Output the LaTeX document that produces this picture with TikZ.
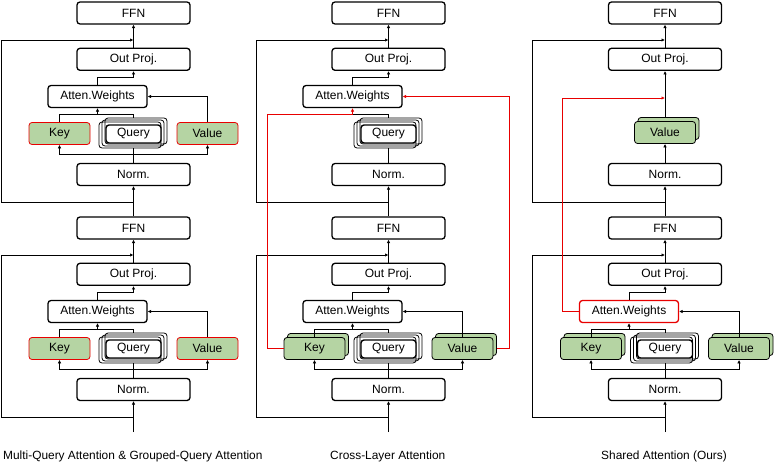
\documentclass[tikz,border=0pt]{standalone}
\usepackage{fontspec}
\setmainfont{Liberation Sans}
\usetikzlibrary{positioning, arrows.meta}

\definecolor{kvgreen}{RGB}{181,212,163}
\definecolor{linkred}{RGB}{232,0,0}

\tikzset{
  box/.style={draw, rounded corners=3pt, line width=1.3pt, fill=white,
    minimum height=22pt, inner sep=0pt, font=\fontsize{12}{13}\selectfont},
  wide/.style={box, minimum width=113pt},
  attn/.style={box, minimum width=99pt},
  kv/.style={box, fill=kvgreen, minimum width=61pt, line width=0.8pt},
  card/.style={draw, rounded corners=3pt, line width=0.8pt, minimum width=62pt, minimum height=26pt},
  qbox/.style={box, minimum width=55pt, minimum height=18pt, line width=1.4pt},
  wire/.style={line width=1pt},
  flow/.style={wire, -{Latex[length=3.5pt,width=3.5pt]}},
  redlink/.style={flow, draw=linkred},
}

\begin{document}
\begin{tikzpicture}[x=1pt, y=-1pt]
\useasboundingbox (0,0) rectangle (775,463);

% layers: FFN, Out Proj., Norm. and the residual path
\foreach \n/\cx in {L/133.5, M/388.5, R/665} {
  \foreach \blk/\dy in {1/0, 2/215} {
    \node[wide] (ffn\n\blk) at (\cx,{13+\dy}) {FFN};
    \node[wide, below=23pt of ffn\n\blk] (proj\n\blk) {Out Proj.};
    \node[wide] (nrm\n\blk) at (\cx,{174.5+\dy}) {Norm.};
    \coordinate (rsa\n\blk) at (\cx,{202+\dy});
    \coordinate (rsb\n\blk) at ({\cx-132.5},{202+\dy});
    \coordinate (rsc\n\blk) at ({\cx-132.5},{40+\dy});
    \coordinate (rsd\n\blk) at (\cx,{40+\dy});
    \draw[flow] (proj\n\blk) -- (ffn\n\blk);
    \draw[wire] (rsa\n\blk) -- (rsb\n\blk) -- (rsc\n\blk);
    \draw[flow] (rsc\n\blk) -- (rsd\n\blk);
  }
  \coordinate (in\n) at (\cx,432);
  \draw[flow] (in\n) -- (nrm\n2);
  \draw[flow] (ffn\n2) -- (nrm\n1);
}

% attention weights
\node[attn] (attnL1) at (97.5,96.5) {Atten.Weights};
\node[attn] (attnL2) at (97.5,311.5) {Atten.Weights};
\node[attn] (attnM1) at (352.5,96.5) {Atten.Weights};
\node[attn] (attnM2) at (352.5,311.5) {Atten.Weights};
\node[attn, draw=linkred] (attnR2) at (629,311.5) {Atten.Weights};

% query stacks
\foreach \pn/\cx/\dy in {L1/133.5/0, L2/133.5/215, M1/388.5/0, M2/388.5/215, R2/665/215} {
  \node[card] (qa\pn) at ({\cx-3.5},{135+\dy}) {};
  \node[card] (qb\pn) at ({\cx-0.5},{133+\dy}) {};
  \node[card] (qc\pn) at ({\cx+2.5},{131+\dy}) {};
  \node[qbox] (qry\pn) at (\cx,{134+\dy}) {Query};
  \coordinate (mrg\pn) at (\cx,{114+\dy});
  \draw[wire] (nrm\pn.north) -- (nrm\pn.north |- qa\pn.south);
  \draw[wire] (mrg\pn |- qc\pn.north) -- (mrg\pn);
}

% keys and values
\node[kv, draw=linkred] (keyL1) at (59.5,133.5) {Key};
\node[kv, draw=linkred] (valL1) at (207.5,133.5) {Value};
\node[kv, draw=linkred] (keyL2) at (59.5,348.5) {Key};
\node[kv, draw=linkred] (valL2) at (207.5,348.5) {Value};
\node[kv] (kbM2) at (318,344.5) {};
\node[kv] (keyM2) at (314.5,348.5) {Key};
\node[kv] (vbM2) at (466,344.5) {};
\node[kv] (valM2) at (462.5,348.5) {Value};
\node[kv] (vbR1) at (668.5,128.5) {};
\node[kv] (valR1) at (665,132.5) {Value};
\node[kv] (kbR2) at (594.5,344.5) {};
\node[kv] (keyR2) at (591,348.5) {Key};
\node[kv] (vbR2) at (742.5,344.5) {};
\node[kv] (valR2) at (739,348.5) {Value};

% wiring inside the attention blocks
\foreach \pn in {L1, L2, M2, R2} {
  \path (nrm\pn.north) ++(0,-8.5) coordinate (low\pn);
  \draw[flow] (attn\pn.north) -- ++(0,-7.5) -| (proj\pn.south);
  \draw[wire] (key\pn.north) |- (mrg\pn);
  \draw[flow] (attn\pn.south |- mrg\pn) -- (attn\pn.south);
  \draw[flow] (val\pn.north) |- (attn\pn.east);
  \draw[flow] (low\pn) -| (key\pn.south);
  \draw[flow] (low\pn) -| (val\pn.south);
}

% middle column: keys and values come from the layer below
\draw[flow] (attnM1.north) -- ++(0,-7.5) -| (projM1.south);
\draw[wire] (mrgM1) -- (attnM1.south |- mrgM1);
\draw[redlink] (keyM2.west) -- ++(-16.5,0) |- (attnM1.south |- mrgM1) -- (attnM1.south);
\draw[redlink] (vbM2.east |- valM2.east) -- ++(12.5,0) |- (attnM1.east);

% right column: weights reused by the layer above
\coordinate (tapR1) at (665,98);
\draw[flow] (nrmR1.north) -- (valR1.south);
\draw[flow] (valR1 |- vbR1.north) -- (projR1.south);
\draw[redlink] (attnR2.west) -- ++(-16,0) |- (tapR1);

% captions
\node[anchor=base west, inner sep=0pt, font=\fontsize{11.9}{13}\selectfont] (capL) at (3,459) {Multi-Query Attention \& Grouped-Query Attention};
\node[anchor=base west, inner sep=0pt, font=\fontsize{11.9}{13}\selectfont] (capM) at (330,459) {Cross-Layer Attention};
\node[anchor=base west, inner sep=0pt, font=\fontsize{11.9}{13}\selectfont] (capR) at (601,459) {Shared Attention (Ours)};
\end{tikzpicture}
\end{document}
